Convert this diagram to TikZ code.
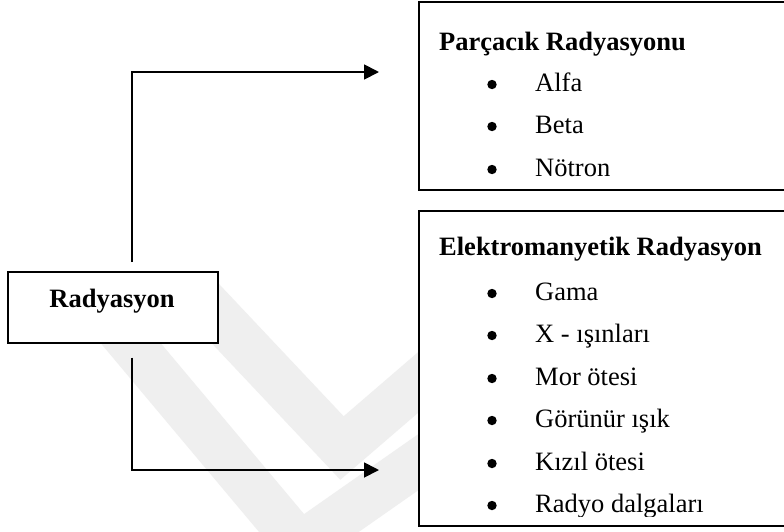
\documentclass[tikz,border=0pt]{standalone}
\usepackage{fontspec}
\setmainfont{Liberation Serif}
\usetikzlibrary{arrows.meta,calc}
\definecolor{wmgray}{HTML}{EFEFEF}
\begin{document}
\begin{tikzpicture}[x=1pt,y=-1pt,
  framebox/.style={draw=black,line width=1.5pt,fill=white,inner sep=0pt,anchor=north west},
  conn/.style={line width=1.8pt,-{Triangle[length=15pt,width=15pt]}},
  wm/.style={draw=wmgray,line width=46pt,line join=miter},
  txt/.style={font=\fontsize{26.5}{30}\selectfont,inner sep=0pt},
  head/.style={txt,font=\fontsize{26.5}{30}\selectfont\bfseries,anchor=base west},
  item/.style={txt,anchor=base west},
  dot/.style={circle,fill=black,inner sep=0pt,minimum size=9.4pt}]
\useasboundingbox (0,0) rectangle (784,531);
\clip (0,0) rectangle (784,531);
\fill[white] (0,0) rectangle (784,531);
% watermark
\draw[wm] (195,292) -- (342,448) -- (450,355);
\draw[wm] (118,328) -- (300,545) -- (450,440);
% boxes
\node[framebox,minimum width=600pt,minimum height=188pt] (pb) at (418,1) {};
\node[framebox,minimum width=600pt,minimum height=315pt] (eb) at (418,210) {};
\node[framebox,minimum width=210pt,minimum height=71pt] (rad) at (7,271) {};
\node[head,anchor=base] (radt) at (112,307) {Radyasyon};
% texts
\begin{scope}
\clip (418,0) rectangle (784,516);
\node[head] (pt) at (439,50) {Parçacık Radyasyonu};
\node[dot] (d1) at (492,84.5) {};  \node[item] (i1) at (535,91) {Alfa};
\node[dot] (d2) at (492,126.5) {}; \node[item] (i2) at (535,133) {Beta};
\node[dot] (d3) at (492,169.5) {}; \node[item] (i3) at (535,176) {Nötron};
\node[head] (et) at (439,255) {Elektromanyetik Radyasyon};
\node[dot] (e1) at (492,293.5) {}; \node[item] (j1) at (535,300) {Gama};
\node[dot] (e2) at (492,335.5) {}; \node[item] (j2) at (535,342) {X - ışınları};
\node[dot] (e3) at (492,378.5) {}; \node[item] (j3) at (535,385) {Mor ötesi};
\node[dot] (e4) at (492,420.5) {}; \node[item] (j4) at (535,427) {Görünür ışık};
\node[dot] (e5) at (492,463.5) {}; \node[item] (j5) at (535,470) {Kızıl ötesi};
\node[dot] (e6) at (492,505.5) {}; \node[item] (j6) at (535,512) {Radyo dalgaları};
\end{scope}
% connectors
\coordinate (tp) at (379,72);
\coordinate (bt) at (379,470);
\draw[conn] ([xshift=19pt,yshift=9pt]rad.north) |- (tp);
\draw[conn] ([xshift=19pt,yshift=-14pt]rad.south) |- (bt);
\end{tikzpicture}
\end{document}
